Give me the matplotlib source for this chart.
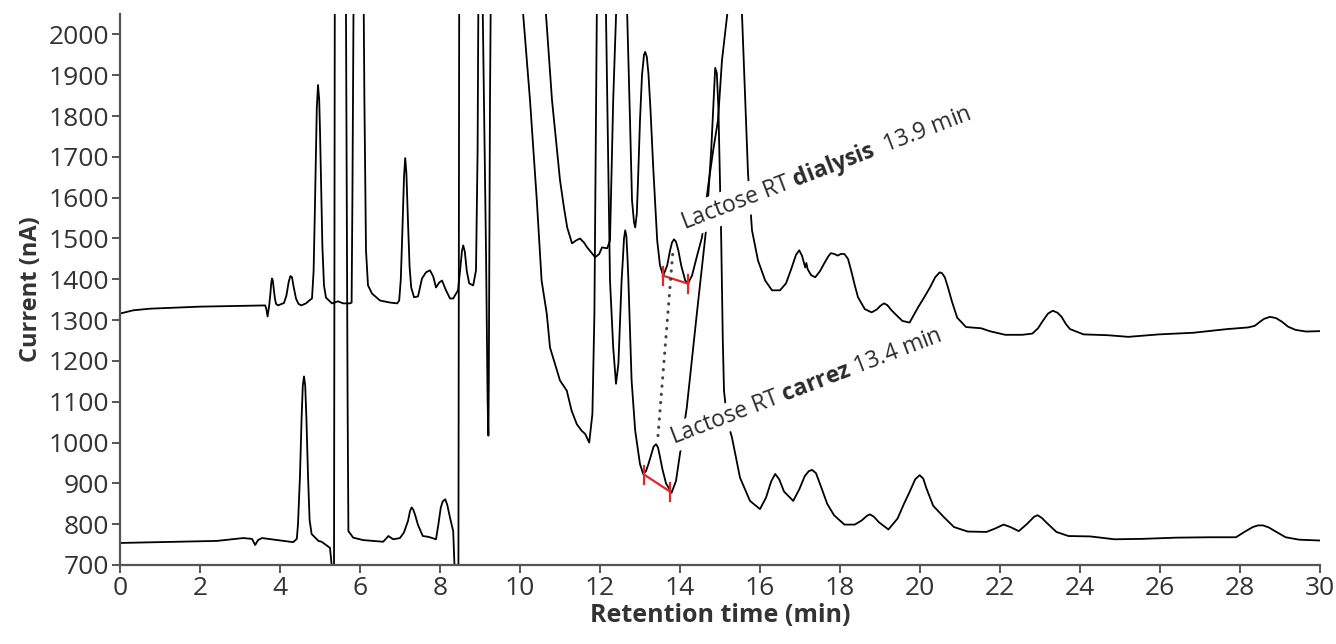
import matplotlib
matplotlib.use("Agg")
import matplotlib.pyplot as plt

plt.rcParams['font.family'] = 'Open Sans'
plt.rcParams['mathtext.fontset'] = 'custom'
plt.rcParams['mathtext.rm'] = 'Open Sans'
plt.rcParams['mathtext.bf'] = 'Open Sans:bold'

# dialysis trace (upper), retention time (min) / current (nA)
dial_t = [0.0, 0.33, 0.75, 2.0, 3.63, 3.66, 3.69, 3.73, 3.76, 3.78, 3.8, 3.82, 3.84, 3.87,
          3.9, 3.95, 4.1, 4.16, 4.22, 4.26, 4.3, 4.34, 4.4, 4.46, 4.53, 4.65, 4.73, 4.8,
          4.84, 4.87, 4.9, 4.92, 4.95, 4.98, 5.0, 5.03, 5.06, 5.1, 5.15, 5.3, 5.45, 5.58,
          5.75, 5.79, 5.81, 5.84, 5.97, 6.09, 6.11, 6.15, 6.2, 6.3, 6.5, 6.75, 6.93, 6.98,
          7.02, 7.06, 7.1, 7.13, 7.16, 7.2, 7.24, 7.28, 7.35, 7.45, 7.55, 7.65, 7.75, 7.83,
          7.9, 7.98, 8.05, 8.15, 8.25, 8.33, 8.45, 8.5, 8.55, 8.58, 8.62, 8.67, 8.73, 8.83,
          8.9, 8.94, 8.96, 9.02, 9.07, 9.15, 9.19, 9.21, 9.22, 9.25, 9.27, 10.0, 10.63,
          10.65, 10.8, 11.0, 11.1, 11.18, 11.3, 11.4, 11.5, 11.6, 11.68, 11.88, 11.98,
          12.05, 12.18, 12.25, 12.33, 12.4, 12.42, 12.55, 12.66, 12.68, 12.75, 12.8, 12.85,
          12.88, 12.92, 12.95, 13.0, 13.05, 13.1, 13.13, 13.17, 13.21, 13.26, 13.33, 13.43,
          13.5, 13.58, 13.68, 13.75, 13.8, 13.85, 13.9, 13.96, 14.03, 14.13, 14.2, 14.3,
          14.43, 14.55, 14.7, 14.83, 14.95, 15.05, 15.18, 15.2, 15.4, 15.53, 15.55, 15.63,
          15.7, 15.8, 15.95, 16.13, 16.3, 16.5, 16.65, 16.78, 16.9, 16.98, 17.05, 17.13,
          17.16, 17.19, 17.28, 17.38, 17.5, 17.6, 17.7, 17.77, 17.86, 17.94, 18.02, 18.11,
          18.2, 18.28, 18.37, 18.45, 18.62, 18.79, 18.92, 19.01, 19.1, 19.18, 19.28, 19.39,
          19.56, 19.74, 19.95, 20.1, 20.25, 20.38, 20.49, 20.55, 20.62, 20.7, 20.8, 20.93,
          21.15, 21.53, 21.74, 22.13, 22.56, 22.81, 22.95, 23.07, 23.2, 23.32, 23.44, 23.54,
          23.65, 23.75, 24.09, 24.69, 25.21, 25.97, 26.83, 27.68, 28.2, 28.37, 28.5, 28.6,
          28.75, 28.9, 29.05, 29.2, 29.39, 29.65, 30.0]
dial_i = [1316, 1324, 1328, 1333, 1336, 1326, 1309, 1336, 1365, 1390, 1402, 1397, 1380, 1355,
          1340, 1336, 1342, 1360, 1395, 1408, 1405, 1382, 1353, 1340, 1336, 1341, 1348, 1353,
          1420, 1560, 1716, 1820, 1876, 1840, 1765, 1620, 1480, 1385, 1355, 1341, 1346, 1341,
          1341, 1343, 1594, 2100, 2600, 2100, 1839, 1471, 1385, 1365, 1348, 1343, 1341, 1348,
          1400, 1520, 1650, 1697, 1660, 1540, 1430, 1380, 1356, 1358, 1402, 1417, 1422, 1407,
          1380, 1392, 1397, 1373, 1353, 1353, 1373, 1420, 1470, 1483, 1468, 1420, 1390, 1385,
          1422, 1716, 2100, 2400, 2048, 1471, 1103, 1017, 1152, 1839, 2100, 2800, 2100,
          2048, 1839, 1643, 1575, 1527, 1488, 1495, 1500, 1490, 1478, 1454, 1462,
          1478, 1476, 1495, 1839, 2048, 2100, 2400, 2100, 2048, 1790, 1594, 1540,
          1527, 1560, 1640, 1790, 1900, 1950, 1957, 1945, 1905, 1820, 1675, 1495,
          1434, 1409, 1434, 1470, 1490, 1498, 1492, 1470, 1434, 1397, 1390, 1409,
          1459, 1503, 1626, 1716, 1790, 1937, 2048, 2100, 2700, 2100, 2048, 1839,
          1660, 1520, 1446, 1397, 1373, 1373, 1390, 1425, 1460, 1471, 1458, 1429,
          1440, 1425, 1410, 1405, 1420, 1438, 1455, 1464, 1462, 1458, 1462, 1462,
          1450, 1421, 1385, 1356, 1327, 1319, 1326, 1335, 1341, 1337, 1325, 1314,
          1298, 1294, 1331, 1355, 1380, 1405, 1417, 1415, 1405, 1380, 1345, 1306,
          1283, 1280, 1273, 1264, 1264, 1267, 1280, 1298, 1316, 1323, 1318, 1308,
          1290, 1278, 1265, 1263, 1259, 1265, 1269, 1278, 1282, 1286, 1296, 1303,
          1308, 1305, 1296, 1284, 1276, 1272, 1273]

# carrez trace (lower)
carr_t = [0.0, 2.42, 3.08, 3.3, 3.38, 3.45, 3.55, 3.93, 4.33, 4.42, 4.45, 4.5, 4.54, 4.57,
          4.6, 4.63, 4.66, 4.7, 4.74, 4.79, 4.96, 5.04, 5.25, 5.33, 5.35, 5.37, 5.5, 5.64,
          5.65, 5.69, 5.71, 5.83, 6.08, 6.58, 6.71, 6.83, 7.0, 7.1, 7.2, 7.25, 7.29, 7.33,
          7.38, 7.45, 7.57, 7.71, 7.9, 7.96, 8.02, 8.07, 8.13, 8.18, 8.25, 8.3, 8.33, 8.38,
          8.46, 8.48, 9.3, 10.06, 10.08, 10.25, 10.42, 10.54, 10.67, 10.75, 11.0, 11.17,
          11.29, 11.42, 11.54, 11.63, 11.73, 11.81, 11.86, 11.92, 11.94, 12.05, 12.13,
          12.15, 12.25, 12.33, 12.4, 12.46, 12.54, 12.57, 12.6, 12.63, 12.66, 12.69, 12.71,
          12.79, 12.88, 13.0, 13.08, 13.15, 13.21, 13.28, 13.34, 13.4, 13.45, 13.5, 13.56,
          13.65, 13.79, 13.9, 14.0, 14.17, 14.42, 14.65, 14.78, 14.84, 14.88, 14.92, 14.96,
          15.0, 15.03, 15.07, 15.1, 15.18, 15.3, 15.5, 15.75, 16.0, 16.15, 16.28, 16.38,
          16.48, 16.6, 16.83, 16.98, 17.12, 17.22, 17.3, 17.4, 17.51, 17.68, 17.85, 18.11,
          18.37, 18.54, 18.68, 18.75, 18.85, 18.97, 19.21, 19.44, 19.6, 19.74, 19.88, 19.99,
          20.08, 20.16, 20.33, 20.59, 20.85, 21.19, 21.66, 21.87, 22.09, 22.26, 22.47,
          22.68, 22.85, 22.94, 23.05, 23.15, 23.41, 23.71, 24.26, 24.86, 25.55, 26.4, 27.26,
          27.9, 28.11, 28.32, 28.45, 28.58, 28.72, 28.84, 29.14, 29.48, 30.0]
carr_i = [754, 759, 766, 764, 749, 761, 766, 761, 756, 764, 800, 920, 1060, 1140,
          1162, 1140, 1060, 920, 810, 776, 759, 757, 742, 660, 660, 2100, 2700, 2100,
          2048, 1100, 783, 767, 761, 757, 771, 763, 766, 780, 808, 832, 841, 836,
          822, 798, 771, 769, 763, 800, 841, 856, 861, 848, 816, 795, 783, 650,
          650, 2100, 2800, 2100, 2048, 1839, 1594, 1397, 1315, 1233, 1152, 1127,
          1078, 1045, 1029, 1021, 1000, 1070, 1315, 2048, 2100, 2400, 2100,
          2048, 1397, 1233, 1144, 1193, 1397, 1446, 1500, 1520, 1505, 1446, 1397,
          1152, 1029, 947, 923, 930, 947, 970, 990, 996, 988, 965, 935,
          900, 877, 906, 972, 1086, 1315, 1520, 1716, 1840, 1918, 1905, 1820,
          1635, 1500, 1250, 1127, 1054, 1012, 914, 857, 837, 865, 905, 923,
          910, 880, 857, 885, 918, 930, 933, 925, 896, 850, 822, 799,
          799, 809, 821, 824, 818, 805, 787, 814, 850, 879, 910, 920,
          912, 888, 845, 818, 793, 782, 781, 789, 799, 793, 783,
          801, 818, 822, 815, 805, 781, 771, 770, 763, 764, 767, 768,
          768, 781, 793, 797, 797, 792, 785, 768, 762, 760]

# lactose peak markers: baseline ends (time, current)
dial_base_t = [13.57, 14.21]
dial_base_i = [1409, 1389]
carr_base_t = [13.11, 13.75]
carr_base_i = [921, 880]
link_t = [13.45, 13.83]
link_i = [1017, 1478]
cap_half = 22

x_ticks = list(range(0, 31, 2))
y_ticks = list(range(700, 2001, 100))

fig = plt.figure(figsize=(13.36, 6.44), dpi=100)
ax = fig.add_axes([120 / 1336, 79 / 644, 1200 / 1336, 551 / 644])

ax.plot(dial_t, dial_i, color='black', lw=1.3, zorder=2)
ax.plot(carr_t, carr_i, color='black', lw=1.3, zorder=2)

red = '#e3262b'
for bt, bi in [(dial_base_t, dial_base_i), (carr_base_t, carr_base_i)]:
    ax.plot(bt, bi, color=red, lw=1.6, zorder=3)
    for t, i in zip(bt, bi):
        ax.plot([t, t], [i - cap_half, i + cap_half], color=red, lw=1.6, zorder=3)

ax.plot(link_t, link_i, color='#444444', lw=2.2, linestyle=(0, (0.1, 2.6)),
        dash_capstyle='round', zorder=3)

txt_kw = dict(rotation=21, rotation_mode='anchor', ha='left', va='baseline',
              fontsize=16.5, color='#2b2b2b', zorder=4,
              bbox=dict(facecolor='white', edgecolor='none', pad=1.5))
ax.text(14.1, 1522, r'Lactose RT $\mathbf{dialysis}$  13.9 min', **txt_kw)
ax.text(13.83, 995, r'Lactose RT $\mathbf{carrez}$ 13.4 min', **txt_kw)

ax.set_xlim(0, 30)
ax.set_ylim(700, 2050)
ax.set_xticks(x_ticks)
ax.set_yticks(y_ticks)

for side in ['top', 'right']:
    ax.spines[side].set_visible(False)
for side in ['left', 'bottom']:
    ax.spines[side].set_color('#555555')
    ax.spines[side].set_linewidth(1.6)

ax.tick_params(length=6, width=1.4, color='#555555', labelsize=19,
               labelcolor='#333333', pad=2)

ax.set_xlabel('Retention time (min)', fontsize=18, fontweight='bold', color='#333333')
ax.set_ylabel('Current (nA)', fontsize=17, fontweight='bold', color='#333333')
ax.xaxis.set_label_coords(0.5, -0.069)
ax.yaxis.set_label_coords(-0.064, 0.5)

fig.savefig('out.png', dpi=100)
